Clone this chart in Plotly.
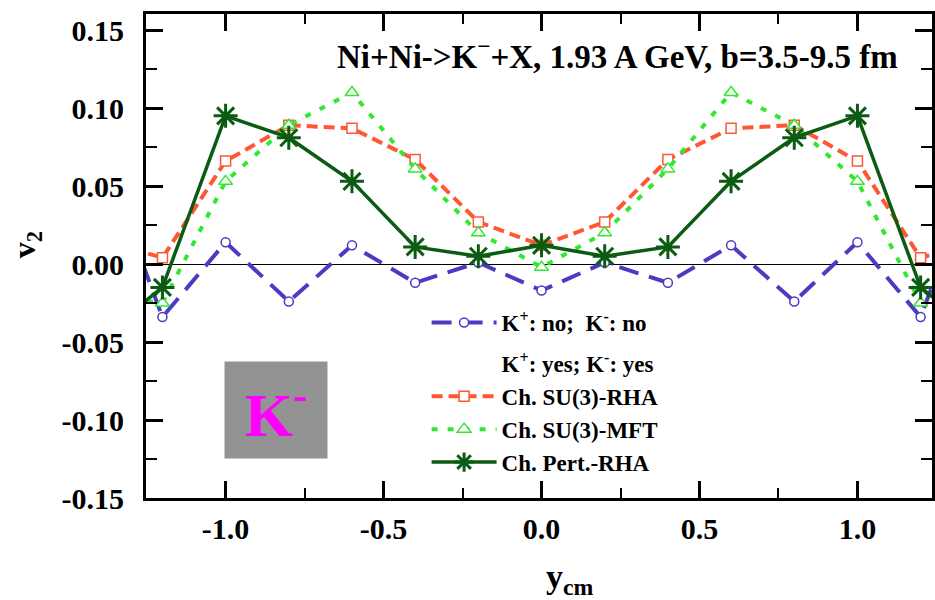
import plotly.graph_objects as go

# ---------------- data ----------------
y_cm = [-1.4, -1.2, -1.0, -0.8, -0.6, -0.4, -0.2, 0.0, 0.2, 0.4, 0.6, 0.8, 1.0, 1.2, 1.4]
v2_no = [0.075, -0.034, 0.014, -0.024, 0.012, -0.012, 0.001, -0.017, 0.001, -0.012, 0.012, -0.024, 0.014, -0.034, 0.075]
v2_su3_rha = [0.016, 0.004, 0.066, 0.089, 0.087, 0.067, 0.027, 0.012, 0.027, 0.067, 0.087, 0.089, 0.066, 0.004, 0.016]
v2_su3_mft = [-0.020, -0.025, 0.053, 0.089, 0.110, 0.061, 0.020, -0.002, 0.020, 0.061, 0.110, 0.089, 0.053, -0.025, -0.020]
v2_pert_rha = [-0.047, -0.015, 0.095, 0.081, 0.053, 0.011, 0.005, 0.012, 0.005, 0.011, 0.053, 0.081, 0.095, -0.015, -0.047]

names = ["K<sup>+</sup>: no;&nbsp; K<sup>-</sup>: no",
         "K<sup>+</sup>: yes; K<sup>-</sup>: yes",
         "Ch. SU(3)-RHA", "Ch. SU(3)-MFT", "Ch. Pert.-RHA"]

x_tick_vals = [-1.0, -0.5, 0.0, 0.5, 1.0]
x_tick_text = ["-1.0", "-0.5", "0.0", "0.5", "1.0"]
y_tick_vals = [-0.15, -0.10, -0.05, 0.00, 0.05, 0.10, 0.15]
y_tick_text = ["-0.15", "-0.10", "-0.05", "0.00", "0.05", "0.10", "0.15"]

title_text = "Ni+Ni->K<sup>−</sup>+X, 1.93 A GeV, b=3.5-9.5 fm"

# ---------------- styles ----------------
SERIF = "Liberation Serif"
BLUE = "#4B3BC4"
RED = "#FF5733"
LGREEN = "#30E830"
DGREEN = "#0B5B12"

fig = go.Figure()
fig.add_trace(go.Scatter(
    x=y_cm, y=v2_no, name=names[0], mode="lines+markers", legendgroup="a",
    line=dict(color=BLUE, width=4, dash="20px,11px"),
    marker=dict(symbol="circle", size=9, color="white", line=dict(color=BLUE, width=1.5))))
fig.add_trace(go.Scatter(
    x=[None], y=[None], name=names[1], mode="lines", legendgroup="b",
    line=dict(color="rgba(0,0,0,0)", width=1)))
fig.add_trace(go.Scatter(
    x=y_cm, y=v2_su3_rha, name=names[2], mode="lines+markers", legendgroup="b",
    line=dict(color=RED, width=4, dash="11px,6px"),
    marker=dict(symbol="square", size=10, color="white", line=dict(color=RED, width=1.5))))
fig.add_trace(go.Scatter(
    x=y_cm, y=v2_su3_mft, name=names[3], mode="lines+markers", legendgroup="b",
    line=dict(color=LGREEN, width=4, dash="6px,10px"),
    marker=dict(symbol="triangle-up", size=12, color="white", line=dict(color=LGREEN, width=1.5))))
fig.add_trace(go.Scatter(
    x=y_cm, y=v2_pert_rha, name=names[4], mode="lines+markers", legendgroup="b",
    line=dict(color=DGREEN, width=3.5),
    marker=dict(symbol="asterisk-open", size=20, color=DGREEN, line=dict(color=DGREEN, width=3))))

axis_common = dict(
    showline=True, linecolor="black", linewidth=3, mirror="allticks",
    ticks="inside", tickcolor="black", tickwidth=2.5, ticklen=17,
    showgrid=False, tickmode="array",
    tickfont=dict(family=SERIF, size=30, color="black", weight="bold"),
)

fig.update_xaxes(
    range=[-1.252, 1.236], tickvals=x_tick_vals, ticktext=x_tick_text, zeroline=False,
    minor=dict(dtick=0.25, tick0=0, ticks="inside", ticklen=10, tickwidth=2, tickcolor="black"),
    ticklabelstandoff=2, **axis_common)
fig.update_yaxes(
    range=[-0.15, 0.1603], tickvals=y_tick_vals, ticktext=y_tick_text,
    zeroline=True, zerolinecolor="black", zerolinewidth=1,
    minor=dict(dtick=0.025, tick0=0, ticks="inside", ticklen=11, tickwidth=2, tickcolor="black"),
    ticklabelstandoff=13, **axis_common)

fig.update_layout(
    width=935, height=600,
    margin=dict(l=146, r=0, t=14, b=102),
    plot_bgcolor="white", paper_bgcolor="white",
    showlegend=True,
    legend=dict(x=0.357, y=0.407, xanchor="left", yanchor="top",
                bgcolor="rgba(0,0,0,0)", traceorder="grouped", tracegroupgap=8,
                itemwidth=65,
                font=dict(family=SERIF, size=23, color="black", weight="bold")),
    annotations=[
        dict(text=title_text, xref="paper", yref="paper", x=0.60, y=0.917,
             xanchor="center", yanchor="middle", showarrow=False,
             font=dict(family=SERIF, size=33, color="black", weight="bold")),
        dict(text="K<sup>-</sup>", xref="paper", yref="paper", x=0.166, y=0.182,
             xanchor="center", yanchor="middle", showarrow=False,
             width=102, height=96, bgcolor="#939393", borderpad=0,
             font=dict(family=SERIF, size=62, color="#FF00FF", weight="bold")),
        dict(text="v<sub>2</sub>", xref="paper", yref="paper", x=-0.151, y=0.523,
             xanchor="center", yanchor="middle", showarrow=False, textangle=-90,
             font=dict(family=SERIF, size=32, color="black", weight="bold")),
        dict(text="y<sub>cm</sub>", xref="paper", yref="paper", x=0.54, y=-0.168,
             xanchor="center", yanchor="middle", showarrow=False,
             font=dict(family=SERIF, size=34, color="black", weight="bold")),
    ],
)

fig.write_html("out.html", config={"displayModeBar": False},
               post_script="document.body.style.margin='0px';document.body.style.overflow='hidden';")
